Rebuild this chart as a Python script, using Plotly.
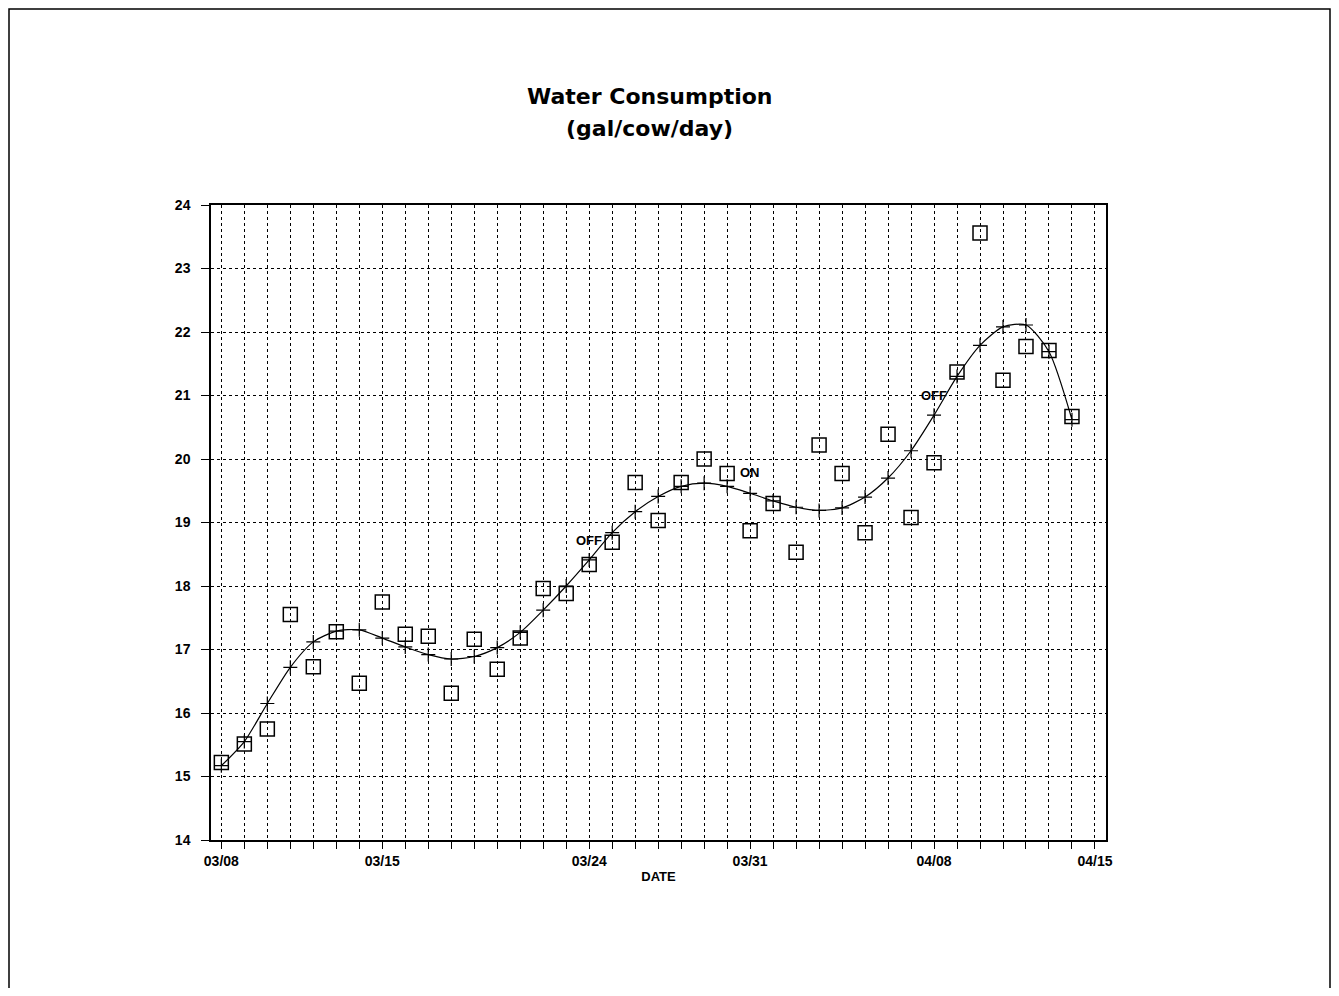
import plotly.graph_objects as go

days = ["03/08", "03/09", "03/10", "03/11", "03/12", "03/13", "03/14", "03/15",
        "03/16", "03/17", "03/18", "03/19", "03/20", "03/21", "03/22", "03/23",
        "03/24", "03/25", "03/26", "03/27", "03/28", "03/29", "03/30", "03/31",
        "04/01", "04/02", "04/03", "04/04", "04/05", "04/06", "04/07", "04/08",
        "04/09", "04/10", "04/11", "04/12", "04/13", "04/14", "04/15"]
labeled_days = ["03/08", "03/15", "03/24", "03/31", "04/08", "04/15"]

# daily measured consumption (squares)
measured = [15.22, 15.51, 15.75, 17.55, 16.73, 17.28, 16.47, 17.75, 17.24, 17.21,
            16.31, 17.16, 16.69, 17.18, 17.96, 17.88, 18.34, 18.69, 19.63, 19.03,
            19.63, 20.00, 19.77, 18.87, 19.30, 18.53, 20.22, 19.77, 18.84, 20.39,
            19.08, 19.94, 21.37, 23.56, 21.24, 21.77, 21.71, 20.67]

# smoothed curve (+ markers)
smoothed = [15.17, 15.55, 16.15, 16.72, 17.12, 17.29, 17.31, 17.18, 17.04, 16.92,
            16.85, 16.89, 17.03, 17.27, 17.62, 18.00, 18.41, 18.84, 19.17, 19.41,
            19.57, 19.62, 19.57, 19.46, 19.34, 19.24, 19.19, 19.23, 19.40, 19.70,
            20.13, 20.69, 21.30, 21.79, 22.08, 22.11, 21.69, 20.62]

notes = ["OFF", "ON", "OFF"]
note_days = ["03/24", "03/31", "04/08"]
note_vals = [18.72, 19.78, 21.00]

# the page puts the figure 8px in from the window corner
OFF_PX = 8
W, H = 1339 - 2 * OFF_PX, 996 - 2 * OFF_PX
L, R, T, B = 211 - OFF_PX, 1106 - OFF_PX, 205 - OFF_PX, 840 - OFF_PX


def paper(x, y):
    # screen pixel -> paper coordinates
    x, y = x - OFF_PX, y - OFF_PX
    return (x - L) / (R - L), (B - y) / (B - T)


tick_font = dict(family="Liberation Sans", size=14, color="black", weight="bold")

fig = go.Figure()
fig.add_trace(go.Scatter(
    x=days[:len(smoothed)], y=smoothed, mode="lines+markers",
    line=dict(color="black", width=1.2, shape="spline", smoothing=0.7),
    marker=dict(symbol="cross-thin", size=10, line=dict(color="black", width=1.2)),
    showlegend=False))
fig.add_trace(go.Scatter(
    x=days[:len(measured)], y=measured, mode="markers",
    marker=dict(symbol="square-open", size=14, color="black", line=dict(width=1.5)),
    showlegend=False))

for t, d, v in zip(notes, note_days, note_vals):
    fig.add_annotation(x=d, y=v, text=t, showarrow=False,
                       font=dict(family="Liberation Sans", size=13, color="black",
                                 weight="bold"))

x1, y1 = paper(649, 97)
x2, y2 = paper(649, 129)
title_font = dict(family="DejaVu Sans", size=22, color="black", weight="bold")
fig.add_annotation(xref="paper", yref="paper", x=x1, y=y1, text="Water Consumption",
                   showarrow=False, font=title_font, yanchor="middle")
fig.add_annotation(xref="paper", yref="paper", x=x2, y=y2, text="(gal/cow/day)",
                   showarrow=False, font=title_font, yanchor="middle")

# scanned page border
bx0, by0 = paper(9, 1010)
bx1, by1 = paper(1330, 9)
fig.add_shape(type="rect", xref="paper", yref="paper", x0=bx0, y0=by0, x1=bx1, y1=by1,
              line=dict(color="black", width=1.5))

fig.update_xaxes(
    type="category", categoryorder="array", categoryarray=days,
    range=[-0.45, len(days) - 1 + 0.48],
    tickmode="array", tickvals=days,
    ticktext=[d if d in labeled_days else "" for d in days],
    tickfont=tick_font, ticks="outside", ticklen=7, tickcolor="black",
    showgrid=True, gridcolor="black", gridwidth=1, griddash="3px,3px",
    showline=True, linecolor="black", linewidth=1.5, mirror=True,
    title=dict(text="DATE", font=dict(family="Liberation Sans", size=13,
                                        color="black", weight="bold"), standoff=4),
    zeroline=False)
fig.update_yaxes(
    range=[14, 24], dtick=1, tickfont=tick_font,
    ticks="outside", ticklen=8, tickcolor="black", ticklabelstandoff=8,
    showgrid=True, gridcolor="black", gridwidth=1, griddash="3px,3px",
    showline=True, linecolor="black", linewidth=1.5, mirror=True,
    zeroline=False)

fig.update_layout(
    width=W, height=H,
    margin=dict(l=L, r=W - R, t=T, b=H - B),
    paper_bgcolor="white", plot_bgcolor="white",
    showlegend=False)

fig.write_html("out.html")
